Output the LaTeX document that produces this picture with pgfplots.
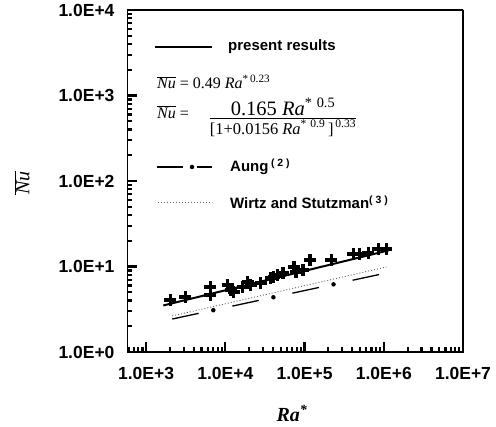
\documentclass[border=0pt]{standalone}
\usepackage{fontspec}
\setmainfont{Liberation Sans}
\newfontfamily\timesf{Liberation Serif}
\usepackage{pgfplots}
\pgfplotsset{compat=1.18}
\begin{document}
\begin{tikzpicture}
\useasboundingbox (-127pt,-75pt) rectangle (369pt,352pt);
\begin{axis}[
  scale only axis, width=336pt, height=342pt,
  at={(0pt,0pt)}, anchor=south west,
  xmode=log, ymode=log,
  xmin=575, xmax=1e7, ymin=1, ymax=1e4,
  xtick={1e3,1e4,1e5,1e6,1e7},
  xticklabels={1.0E+3,1.0E+4,1.0E+5,1.0E+6,1.0E+7},
  ytick={1,10,100,1000,10000},
  yticklabels={1.0E+0,1.0E+1,1.0E+2,1.0E+3,1.0E+4},
  minor xtick={600,700,800,900,2e3,3e3,4e3,5e3,6e3,7e3,8e3,9e3,2e4,3e4,4e4,5e4,6e4,7e4,8e4,9e4,2e5,3e5,4e5,5e5,6e5,7e5,8e5,9e5,2e6,3e6,4e6,5e6,6e6,7e6,8e6,9e6},
  minor ytick={2,3,4,5,6,7,8,9,20,30,40,50,60,70,80,90,200,300,400,500,600,700,800,900,2000,3000,4000,5000,6000,7000,8000,9000},
  xtick pos=bottom, ytick pos=left, xtick align=inside, ytick align=inside,
  major tick length=10pt, minor tick length=5pt,
  tick style={black, line width=2.2pt},
  tick label style={font=\fontsize{17.5}{18}\selectfont\bfseries},
  xticklabel style={yshift=-12pt},
  yticklabel style={xshift=-9pt},
]
\addplot[black, line width=2pt] coordinates {(1650,3.5) (1.17e6,15.5)};
\addplot[only marks, mark=+, mark size=6pt, mark options={line width=3.3pt, black}] coordinates {
(2018,4.06) (3126,4.40) (6500,5.75) (6500,4.64) (10690,6.08) (11660,5.31) (12730,5.03)
(16560,5.75) (19170,6.59) (20930,6.08) (28040,6.41) (37570,7.34) (41000,7.54) (46060,7.96)
(53330,8.39) (73560,9.87) (78000,8.62) (95700,9.10) (117500,11.9) (217000,11.9)
(413000,14.0) (492000,14.0) (640000,14.4) (858000,16.0) (1080000,16.0)};
\addplot[black, line width=1.3pt, dash pattern=on 27pt off 34.5pt] coordinates {(2140,2.43) (1.08e6,8.4)};
\addplot[black, line width=4.5pt, line cap=round, dash pattern=on 0pt off 61.5pt, dash phase=19.5pt] coordinates {(2140,2.43) (1.08e6,8.4)};
\addplot[black!60, line width=0.9pt, dash pattern=on 1pt off 2pt] coordinates {(2140,2.64) (1.08e6,9.87)};
\draw[black, line width=2.8pt] (rel axis cs:0,0) rectangle (rel axis cs:1,1);
\end{axis}
% legend
\draw[black, line width=2pt] (28pt,305pt) -- (85pt,305pt);
\node[anchor=west, inner sep=0pt, font=\fontsize{15}{15}\selectfont\bfseries] at (101pt,305pt) {present results};
\node[anchor=west, inner sep=0pt, font=\timesf\fontsize{16}{16}\selectfont] at (30pt,270pt)
  {$\overline{\mbox{\itshape Nu}}$ = 0.49 \textit{Ra}\textsuperscript{*\,0.23}};
\node[anchor=west, inner sep=0pt, font=\timesf\fontsize{16}{16}\selectfont] at (30pt,240pt)
  {$\overline{\mbox{\itshape Nu}}$ =};
\node[inner sep=0pt, font=\timesf] at (156pt,234pt) {\arrayrulewidth=1pt
  \begin{tabular}{@{}c@{}}
  {\fontsize{20.5}{21}\selectfont 0.165 \textit{Ra}\textsuperscript{*\,\,0.5}}\\[-1pt] \hline
  \rule{0pt}{15pt}{\fontsize{16.5}{17}\selectfont [1+0.0156 \textit{Ra}\textsuperscript{*\,\,0.9}\,]\textsuperscript{\,0.33}}
  \end{tabular}};
\draw[black, line width=1.3pt] (30pt,185pt) -- (56pt,185pt);
\draw[black, line width=1.3pt] (70pt,185pt) -- (85pt,185pt);
\draw[black, line width=4.5pt, line cap=round, dash pattern=on 0pt off 20pt] (65pt,185pt) -- (66pt,185pt);
\node[anchor=west, inner sep=0pt, font=\fontsize{15}{15}\selectfont\bfseries] at (103pt,185pt) {Aung\,\textsuperscript{( 2 )}};
\draw[black!60, line width=0.9pt, dash pattern=on 1pt off 2pt] (31pt,150pt) -- (85pt,150pt);
\node[anchor=west, inner sep=0pt, font=\fontsize{15}{15}\selectfont\bfseries] at (103pt,150pt) {Wirtz and Stutzman\textsuperscript{( 3 )}};
% axis labels
\node[anchor=base, inner sep=0pt, font=\timesf\bfseries\itshape\fontsize{20}{20}\selectfont] at (165pt,-70pt) {Ra\textsuperscript{*}};
\node[rotate=90, inner sep=0pt, font=\timesf\itshape\fontsize{20}{20}\selectfont] at (-105pt,169pt) {$\overline{\mbox{Nu}}$};
\end{tikzpicture}
\end{document}
